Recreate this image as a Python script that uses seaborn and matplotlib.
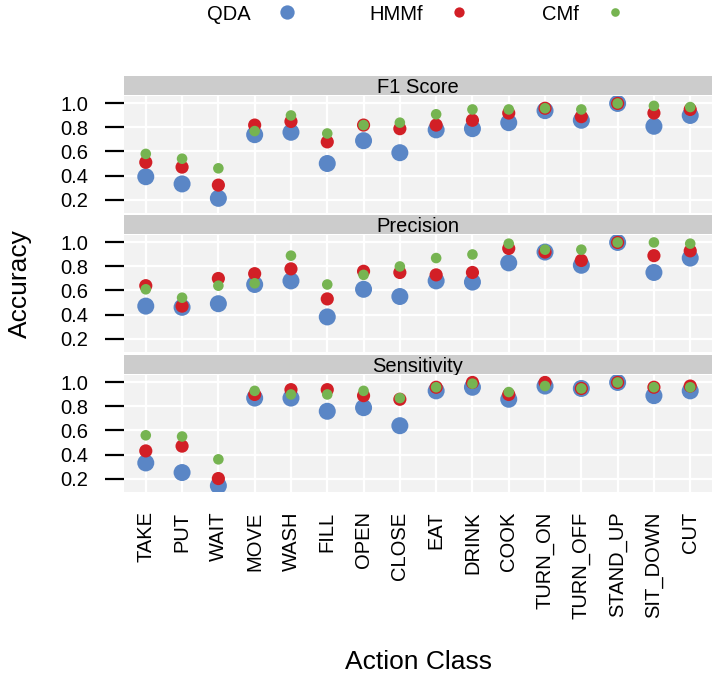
import pandas as pd
import numpy as np
import matplotlib
matplotlib.use("Agg")
import matplotlib.pyplot as plt
from matplotlib.lines import Line2D
import seaborn as sns

# Données
actions = ["TAKE", "PUT", "WAIT", "MOVE", "WASH", "FILL", "OPEN", "CLOSE",
           "EAT", "DRINK", "COOK", "TURN_ON", "TURN_OFF", "STAND_UP", "SIT_DOWN", "CUT"]
methods = ["QDA", "HMMf", "CMf"]
metrics = ["F1 Score", "Precision", "Sensitivity"]

f1_qda = [0.39, 0.33, 0.21, 0.74, 0.76, 0.50, 0.69, 0.59, 0.78, 0.79, 0.84, 0.94, 0.86, 1.00, 0.81, 0.90]
f1_hmm = [0.51, 0.47, 0.32, 0.82, 0.85, 0.68, 0.82, 0.79, 0.82, 0.86, 0.92, 0.96, 0.89, 1.00, 0.92, 0.95]
f1_cm = [0.58, 0.54, 0.46, 0.77, 0.90, 0.75, 0.82, 0.84, 0.91, 0.95, 0.95, 0.96, 0.95, 1.00, 0.98, 0.97]

prec_qda = [0.47, 0.46, 0.49, 0.65, 0.68, 0.38, 0.61, 0.55, 0.68, 0.67, 0.83, 0.92, 0.81, 1.00, 0.75, 0.87]
prec_hmm = [0.64, 0.47, 0.70, 0.74, 0.78, 0.53, 0.76, 0.75, 0.73, 0.75, 0.95, 0.92, 0.85, 1.00, 0.89, 0.93]
prec_cm = [0.61, 0.54, 0.64, 0.66, 0.89, 0.65, 0.73, 0.80, 0.87, 0.90, 0.99, 0.94, 0.94, 1.00, 1.00, 0.99]

sens_qda = [0.33, 0.25, 0.14, 0.87, 0.87, 0.76, 0.79, 0.64, 0.93, 0.96, 0.86, 0.97, 0.95, 1.00, 0.89, 0.93]
sens_hmm = [0.43, 0.47, 0.20, 0.90, 0.94, 0.94, 0.89, 0.86, 0.96, 1.00, 0.90, 1.00, 0.95, 1.00, 0.96, 0.97]
sens_cm = [0.56, 0.55, 0.36, 0.93, 0.90, 0.90, 0.93, 0.87, 0.96, 0.99, 0.92, 0.97, 0.95, 1.00, 0.96, 0.96]

values = {
    "F1 Score": [f1_qda, f1_hmm, f1_cm],
    "Precision": [prec_qda, prec_hmm, prec_cm],
    "Sensitivity": [sens_qda, sens_hmm, sens_cm],
}

rows = []
for metric in metrics:
    for method, vals in zip(methods, values[metric]):
        rows.append(pd.DataFrame({"Action": actions, "Value": vals,
                                  "Method": method, "Metric": metric}))
data = pd.concat(rows, ignore_index=True)

palette = {"QDA": "#5A86C6", "HMMf": "#D21F26", "CMf": "#76B451"}
sizes = {"QDA": 150, "HMMf": 90, "CMf": 58}

sns.set_theme(style="darkgrid", rc={
    "axes.facecolor": "#F2F2F2",
    "grid.color": "white",
    "grid.linewidth": 1.6,
    "text.color": "black",
    "axes.labelcolor": "black",
    "xtick.color": "black",
    "ytick.color": "black",
})
plt.rcParams["font.family"] = ["Liberation Sans", "DejaVu Sans"]

W, H = 718, 677
fig = plt.figure(figsize=(W / 100, H / 100), dpi=100)

left = 124 / W
width = 588 / W
strip_tops = [76, 215, 355]
strip_h = 19
panel_h = 117
fs = 14.5

for i, metric in enumerate(metrics):
    top = strip_tops[i]
    # bandeau du facet
    sax = fig.add_axes([left, 1 - (top + strip_h) / H, width, strip_h / H])
    sax.set_facecolor("#CCCCCC")
    sax.set_xticks([])
    sax.set_yticks([])
    sax.grid(False)
    for sp in sax.spines.values():
        sp.set_visible(False)
    sax.text(0.5, 0.42, metric, ha="center", va="center", fontsize=fs, transform=sax.transAxes)

    ptop = top + strip_h + 1
    ax = fig.add_axes([left, 1 - (ptop + panel_h) / H, width, panel_h / H])
    sub = data[data["Metric"] == metric]
    sns.scatterplot(data=sub, x="Action", y="Value", hue="Method", size="Method",
                    hue_order=methods, palette=palette, sizes=sizes, size_order=methods,
                    linewidth=0, alpha=1, legend=False, ax=ax)
    ax.set_xlim(-0.6, 15.6)
    ax.set_ylim(0.088, 1.062)
    ax.set_yticks([0.2, 0.4, 0.6, 0.8, 1.0])
    ax.set_yticklabels(["0.2", "0.4", "0.6", "0.8", "1.0"], fontsize=fs)
    ax.tick_params(axis="y", length=14, width=1.6, pad=12, color="black", left=True)
    ax.set_xlabel("")
    ax.set_ylabel("")
    for sp in ax.spines.values():
        sp.set_visible(False)
    ax.set_xticks(range(len(actions)))
    if i < 2:
        ax.set_xticklabels([])
        ax.tick_params(axis="x", length=0)
    else:
        ax.set_xticklabels(actions, rotation=90, fontsize=fs, va="top")
        ax.tick_params(axis="x", length=0, pad=14)

fig.text(20 / W, 1 - 284 / H, "Accuracy", rotation=90, ha="center", va="center", fontsize=19)
fig.text(419 / W, 1 - 662 / H, "Action Class", ha="center", va="center", fontsize=19)

handles = [Line2D([], [], linestyle="", marker="o", markersize=ms, color=palette[m],
                  markeredgewidth=0)
           for m, ms in zip(methods, [10.3, 7.4, 6.2])]
fig.legend(handles, methods, loc="center", bbox_to_anchor=(416 / W, 1 - 14 / H), ncol=3,
           frameon=False, markerfirst=False, fontsize=fs, handlelength=1,
           handletextpad=1.3, columnspacing=3.6)

fig.savefig("out.png", dpi=100)
